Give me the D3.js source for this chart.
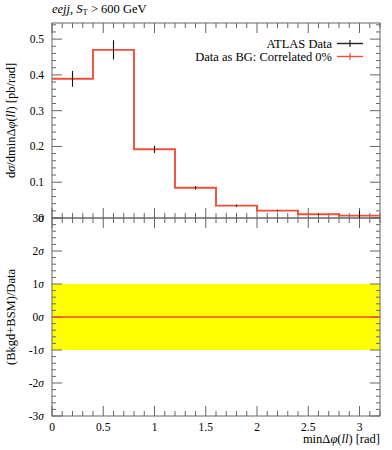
<!DOCTYPE html>
<html><head><meta charset="utf-8">
<script src="https://cdn.jsdelivr.net/npm/d3@7"></script>
<style>body{margin:0;background:#fff}svg{display:block}text{font-family:"Liberation Serif","DejaVu Serif",serif}</style>
</head><body><svg id="c" width="392" height="450"></svg>
<script>
const binEdges = [0,0.4,0.8,1.2,1.6,2.0,2.4,2.8,3.2];
const dataVals = [0.389,0.470,0.192,0.0845,0.0347,0.0206,0.0104,0.0065];
const dataErrs = [0.022,0.027,0.010,0.005,0.003,0.002,0.002,0.014];
const mcVals = [0.389,0.470,0.192,0.0845,0.0347,0.0206,0.0104,0.0065];
const ratioVals = [0,0,0,0,0,0,0,0];
const xTicks = [0,0.5,1,1.5,2,2.5,3];
const yTicks = [0.1,0.2,0.3,0.4,0.5];
const rTicks = [-3,-2,-1,0,1,2,3];

const svg = d3.select("#c");
const L=52,R=380,T=23,M=218,B=416;
const red="#ef4f3a";
const x=d3.scaleLinear().domain([0,3.2]).range([L,R]);
const y=d3.scaleLinear().domain([0,0.545]).range([M,T]);
const yr=d3.scaleLinear().domain([-3,3]).range([B,M]);

// band
svg.append("rect").attr("x",L).attr("width",R-L).attr("y",yr(1)).attr("height",yr(-1)-yr(1)).attr("fill","#ffff00");

const tickCol="#666";
function xt(top,bot){
  const minor=d3.range(0,3.21,0.1);
  minor.forEach(v=>{
    const major=xTicks.some(t=>Math.abs(t-v)<1e-6);
    const len=major?10:5;
    svg.append("line").attr("x1",x(v)).attr("x2",x(v)).attr("y1",top).attr("y2",top+len).attr("stroke",tickCol);
    svg.append("line").attr("x1",x(v)).attr("x2",x(v)).attr("y1",bot).attr("y2",bot-len).attr("stroke",tickCol);
  });
}
xt(T,M); xt(M,B);
d3.range(0,0.545,0.02).forEach(v=>{
  const major=Math.abs(v*10-Math.round(v*10))<1e-6;
  const len=major?10:4;
  svg.append("line").attr("x1",L).attr("x2",L+len).attr("y1",y(v)).attr("y2",y(v)).attr("stroke",tickCol);
  svg.append("line").attr("x1",R).attr("x2",R-len).attr("y1",y(v)).attr("y2",y(v)).attr("stroke",tickCol);
});
d3.range(-3,3.01,0.2).forEach(v=>{
  const major=Math.abs(v-Math.round(v))<1e-6;
  const len=major?10:4;
  svg.append("line").attr("x1",L).attr("x2",L+len).attr("y1",yr(v)).attr("y2",yr(v)).attr("stroke",tickCol);
  svg.append("line").attr("x1",R).attr("x2",R-len).attr("y1",yr(v)).attr("y2",yr(v)).attr("stroke",tickCol);
});
svg.append("rect").attr("x",L).attr("y",T).attr("width",R-L).attr("height",M-T).attr("fill","none").attr("stroke",tickCol);
svg.append("rect").attr("x",L).attr("y",M).attr("width",R-L).attr("height",B-M).attr("fill","none").attr("stroke",tickCol);

const fs=11.5;
yTicks.forEach(v=>svg.append("text").attr("x",L-8).attr("y",y(v)+4).attr("text-anchor","end").attr("font-size",fs).text(v.toFixed(1)));
svg.append("text").attr("x",L-8).attr("y",y(0)+4).attr("text-anchor","end").attr("font-size",fs).text("0");
rTicks.forEach(v=>{
  const t=svg.append("text").attr("x",L-8).attr("y",yr(v)+4).attr("text-anchor","end").attr("font-size",fs);
  t.append("tspan").text(v+"");
  t.append("tspan").attr("font-style","italic").text("σ");
});
xTicks.forEach(v=>svg.append("text").attr("x",x(v)).attr("y",B+15).attr("text-anchor","middle").attr("font-size",fs).text(v+""));

const step=[];
mcVals.forEach((v,i)=>{step.push([binEdges[i],v]);step.push([binEdges[i+1],v]);});
svg.append("path").attr("d",d3.line().x(d=>x(d[0])).y(d=>y(d[1]))(step)).attr("fill","none").attr("stroke",red).attr("stroke-width",1.9);
const g=svg.append("g");
dataVals.forEach((v,i)=>{
  const c=(binEdges[i]+binEdges[i+1])/2;
  g.append("line").attr("x1",x(c)).attr("x2",x(c)).attr("y1",Math.max(T,y(v+dataErrs[i]))).attr("y2",Math.min(M,y(v-dataErrs[i]))).attr("stroke","#111").attr("stroke-width",1.1);
});
const rstep=[];
ratioVals.forEach((v,i)=>{rstep.push([binEdges[i],v]);rstep.push([binEdges[i+1],v]);});
svg.append("path").attr("d",d3.line().x(d=>x(d[0])).y(d=>yr(d[1]))(rstep)).attr("fill","none").attr("stroke",red).attr("stroke-width",1.6);

const tt=svg.append("text").attr("x",L).attr("y",13).attr("font-size",12.5);
tt.append("tspan").attr("font-style","italic").text("eejj");
tt.append("tspan").text(", ");
tt.append("tspan").attr("font-style","italic").text("S");
tt.append("tspan").attr("font-size",8.5).attr("dy",2).text("T");
tt.append("tspan").attr("dy",-2).text(" > 600 GeV");

const lg=[["ATLAS Data","#222",43.5],["Data as BG: Correlated 0%",red,56.5]];
lg.forEach(([t,c,yy])=>{
  svg.append("text").attr("x",332).attr("y",yy+4).attr("text-anchor","end").attr("font-size",12.5).text(t);
  svg.append("line").attr("x1",337).attr("x2",363).attr("y1",yy).attr("y2",yy).attr("stroke",c).attr("stroke-width",1.4);
  svg.append("line").attr("x1",350).attr("x2",350).attr("y1",yy-3.5).attr("y2",yy+3.5).attr("stroke",c).attr("stroke-width",1.2);
});

const yl=svg.append("text").attr("transform",`translate(15,${(T+M)/2}) rotate(-90)`).attr("text-anchor","middle").attr("font-size",12.5);
yl.append("tspan").text("d");
yl.append("tspan").attr("font-style","italic").text("σ");
yl.append("tspan").text("/dminΔ");
yl.append("tspan").attr("font-style","italic").text("φ");
yl.append("tspan").text("(");
yl.append("tspan").attr("font-style","italic").text("ll");
yl.append("tspan").text(") [pb/rad]");
svg.append("text").attr("transform",`translate(15,${(M+B)/2}) rotate(-90)`).attr("text-anchor","middle").attr("font-size",12.5).text("(Bkgd+BSM)/Data");
const xl=svg.append("text").attr("x",R).attr("y",443).attr("text-anchor","end").attr("font-size",12.5);
xl.append("tspan").text("minΔ");
xl.append("tspan").attr("font-style","italic").text("φ");
xl.append("tspan").text("(");
xl.append("tspan").attr("font-style","italic").text("ll");
xl.append("tspan").text(") [rad]");
</script></body></html>
